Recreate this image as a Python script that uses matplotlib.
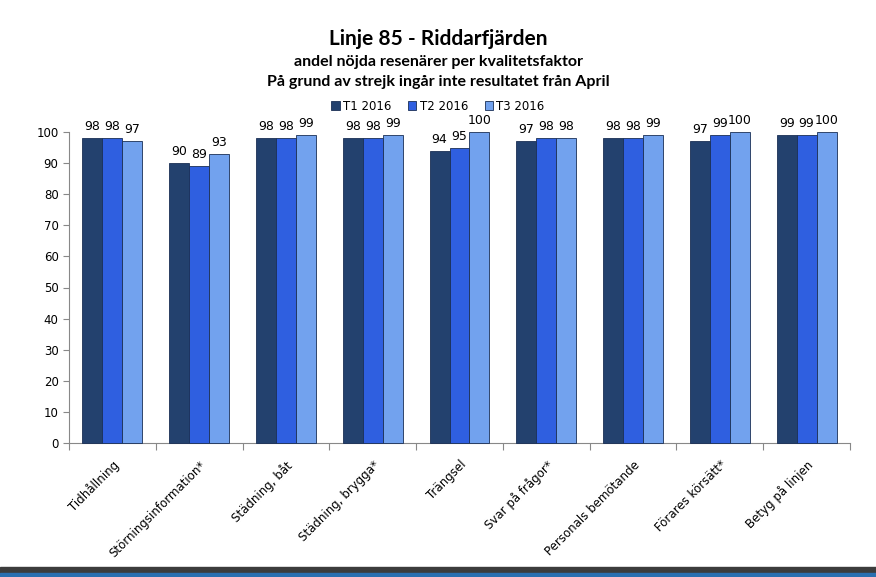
import numpy as np
import matplotlib.pyplot as plt
from matplotlib.patches import Rectangle

categories = ['Tidhållning', 'Störningsinformation*', 'Städning, båt', 'Städning, brygga*',
              'Trängsel', 'Svar på frågor*', 'Personals bemötande', 'Förares körsätt*',
              'Betyg på linjen']
t1 = [98, 90, 98, 98, 94, 97, 98, 97, 99]
t2 = [98, 89, 98, 98, 95, 98, 98, 99, 99]
t3 = [97, 93, 99, 99, 100, 98, 99, 100, 100]
series = ['T1 2016', 'T2 2016', 'T3 2016']
colors = ['#23416e', '#2f5fe0', '#72a2ee']

fig = plt.figure(figsize=(8.76, 5.77), dpi=100)
ax = fig.add_axes([69 / 876, 134 / 577, 781 / 876, 311 / 577])

x = np.arange(len(categories))
w = 0.23
for i, (vals, name, c) in enumerate(zip([t1, t2, t3], series, colors)):
    pos = x + (i - 1) * w
    ax.bar(pos, vals, width=w, color=c, edgecolor='#1a2f55', linewidth=0.6,
           label=name, clip_on=False, zorder=3)
    for p, v in zip(pos, vals):
        ax.text(p, v + 1.6, str(v), ha='center', va='bottom', fontsize=9,
                clip_on=False)

ax.set_xlim(-0.5, len(categories) - 0.5)
ax.set_ylim(0, 100)
ax.set_yticks(range(0, 101, 10))
ax.tick_params(axis='y', labelsize=8.5, direction='out', length=4, color='#888888')
ax.set_xticks(np.arange(-0.5, len(categories), 1))
ax.set_xticklabels([])
ax.set_xticks(x, minor=True)
ax.set_xticklabels(categories, minor=True, rotation=45, ha='right', rotation_mode='anchor',
                   fontsize=8.5)
ax.tick_params(axis='x', which='minor', length=0, pad=11)
ax.tick_params(axis='x', which='major', direction='out', length=5, color='#888888')
for s in ['top', 'right']:
    ax.spines[s].set_visible(False)
for s in ['left', 'bottom']:
    ax.spines[s].set_color('#888888')

fig.text(0.5, 1 - 39 / 577, 'Linje 85 - Riddarfjärden', ha='center', va='center',
         fontsize=15, fontweight='bold', family='Lato')
fig.text(0.5, 1 - 62 / 577, 'andel nöjda resenärer per kvalitetsfaktor', ha='center',
         va='center', fontsize=11.5, fontweight='bold', family='Lato')
fig.text(0.5, 1 - 82 / 577, 'På grund av strejk ingår inte resultatet från April', ha='center',
         va='center', fontsize=11.5, fontweight='bold', family='Lato')

fig.legend(loc='center', bbox_to_anchor=(0.5, 1 - 106 / 577), ncol=3, frameon=False,
           fontsize=8.5, handlelength=0.7, handleheight=0.7, handletextpad=0.3,
           columnspacing=1.4)

fig.patches.append(Rectangle((0, 4 / 577), 1, 6 / 577, transform=fig.transFigure,
                             color='#3c3c3c', zorder=0))
fig.patches.append(Rectangle((0, 0), 1, 4 / 577, transform=fig.transFigure,
                             color='#2a6fb0', zorder=0))

fig.savefig('out.png', dpi=100)
